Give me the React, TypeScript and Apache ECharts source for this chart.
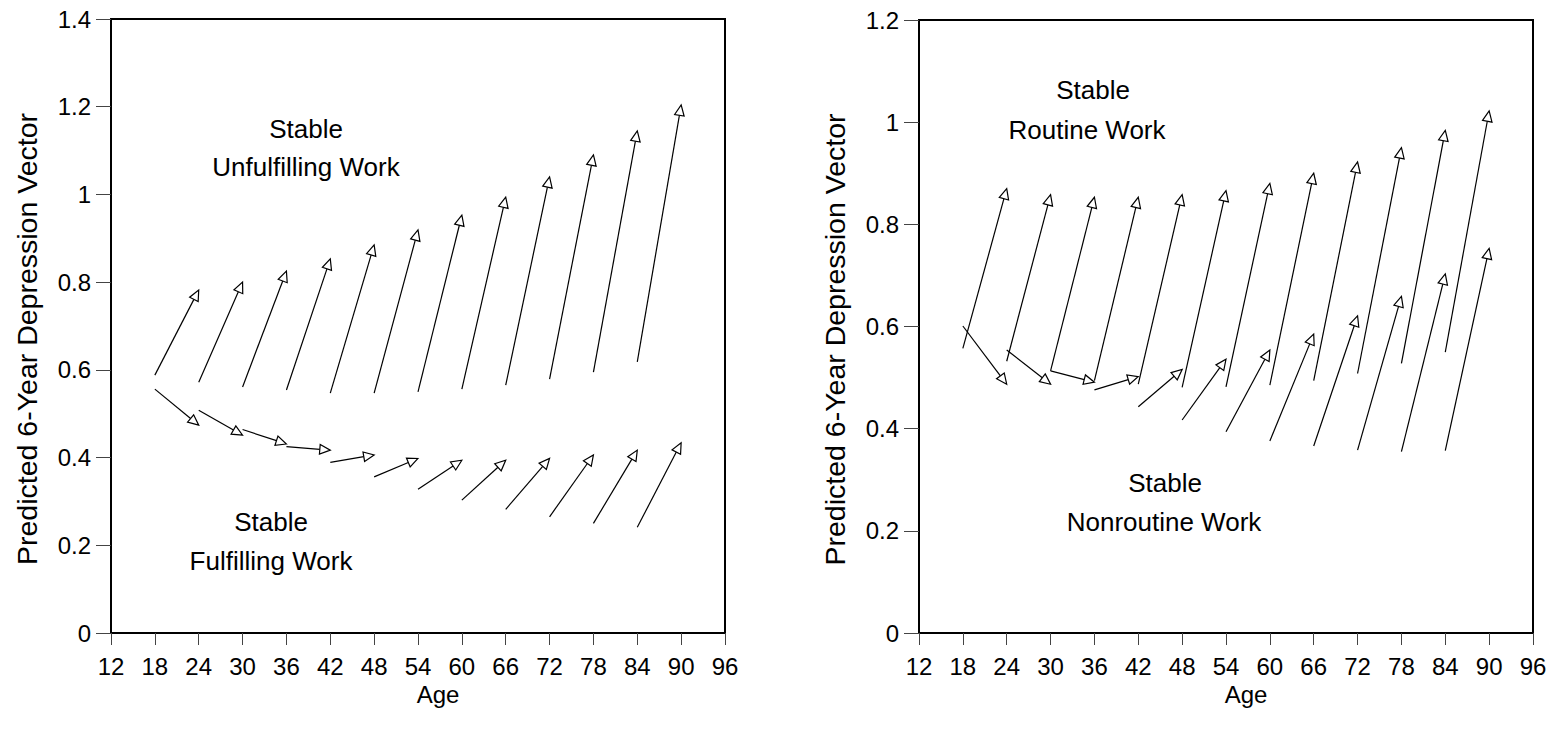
import React, { useEffect, useRef } from "react";
import * as echarts from "echarts";

// Start and end ages of each 6-year vector
const fromAge = [18, 24, 30, 36, 42, 48, 54, 60, 66, 72, 78, 84];
const toAge = [24, 30, 36, 42, 48, 54, 60, 66, 72, 78, 84, 90];

// Left panel: Stable Unfulfilling Work (upper vectors)
const unfulfillingStart = [0.588, 0.572, 0.561, 0.554, 0.547, 0.547, 0.55, 0.556, 0.565, 0.579, 0.595, 0.618];
const unfulfillingEnd = [0.782, 0.8, 0.825, 0.853, 0.885, 0.919, 0.953, 0.994, 1.04, 1.09, 1.145, 1.204];
// Left panel: Stable Fulfilling Work (lower vectors)
const fulfillingStart = [0.556, 0.508, 0.464, 0.425, 0.389, 0.356, 0.328, 0.303, 0.282, 0.265, 0.25, 0.241];
const fulfillingEnd = [0.474, 0.451, 0.431, 0.417, 0.406, 0.398, 0.394, 0.394, 0.398, 0.406, 0.417, 0.434];

// Right panel: Stable Routine Work
const routineStart = [0.557, 0.532, 0.513, 0.494, 0.487, 0.481, 0.482, 0.485, 0.494, 0.508, 0.528, 0.55];
const routineEnd = [0.87, 0.858, 0.853, 0.853, 0.858, 0.866, 0.88, 0.9, 0.922, 0.95, 0.984, 1.022];
// Right panel: Stable Nonroutine Work
const nonroutineStart = [0.601, 0.554, 0.513, 0.476, 0.443, 0.417, 0.394, 0.376, 0.366, 0.358, 0.355, 0.357];
const nonroutineEnd = [0.487, 0.487, 0.491, 0.502, 0.516, 0.536, 0.554, 0.585, 0.621, 0.659, 0.703, 0.753];

const xTicks = { min: 12, max: 96, interval: 6 };
const leftY = { min: 0, max: 1.4, interval: 0.2 };
const rightY = { min: 0, max: 1.2, interval: 0.2 };

const xTitle = "Age";
const yTitle = "Predicted 6-Year Depression Vector";

const FONT = '"Liberation Sans", Arial, sans-serif';

function vectors(starts: number[], ends: number[]) {
  return fromAge.map((a, i) => [a, starts[i], toAge[i], ends[i]]);
}

function renderArrow(params: any, api: any) {
  const p0 = api.coord([api.value(0), api.value(1)]);
  const p1 = api.coord([api.value(2), api.value(3)]);
  const dx = p1[0] - p0[0];
  const dy = p1[1] - p0[1];
  const len = Math.sqrt(dx * dx + dy * dy) || 1;
  const ux = dx / len;
  const uy = dy / len;
  const headLen = 10.5;
  const headHalf = 4.8;
  const bx = p1[0] - ux * headLen;
  const by = p1[1] - uy * headLen;
  const px = -uy;
  const py = ux;
  return {
    type: "group",
    children: [
      {
        type: "line",
        shape: { x1: p0[0], y1: p0[1], x2: bx, y2: by },
        style: { stroke: "#000", lineWidth: 1.2 },
      },
      {
        type: "polygon",
        shape: {
          points: [
            [p1[0], p1[1]],
            [bx + px * headHalf, by + py * headHalf],
            [bx - px * headHalf, by - py * headHalf],
          ],
        },
        style: { fill: "#fff", stroke: "#000", lineWidth: 1.2 },
      },
    ],
  };
}

function xAxisDef(gridIndex: number) {
  return {
    type: "value",
    gridIndex,
    min: xTicks.min,
    max: xTicks.max,
    interval: xTicks.interval,
    offset: 3,
    name: xTitle,
    nameLocation: "middle",
    nameGap: 38,
    nameTextStyle: { fontSize: 24, color: "#000", fontFamily: FONT, padding: [0, 0, 0, 40] },
    axisLine: { show: false },
    axisTick: { show: true, length: 12, lineStyle: { color: "#444", width: 1 } },
    axisLabel: { fontSize: 24, color: "#000", fontFamily: FONT, margin: 18 },
    splitLine: { show: false },
  };
}

function yAxisDef(gridIndex: number, cfg: { min: number; max: number; interval: number }) {
  return {
    type: "value",
    gridIndex,
    min: cfg.min,
    max: cfg.max,
    interval: cfg.interval,
    name: yTitle,
    nameLocation: "middle",
    nameGap: 70,
    nameRotate: 90,
    nameTextStyle: { fontSize: 28.5, color: "#000", fontFamily: FONT, padding: [0, 26, 0, 0] },
    axisLine: { show: false },
    axisTick: { show: true, length: 15, lineStyle: { color: "#444", width: 1 } },
    axisLabel: {
      fontSize: 24,
      color: "#000",
      fontFamily: FONT,
      margin: 20,
      formatter: (v: number) => String(Math.round(v * 10) / 10),
    },
    splitLine: { show: false },
  };
}

function textEl(text: string, x: number, y: number) {
  return {
    type: "text",
    x,
    y,
    style: {
      text,
      fill: "#000",
      font: `26px ${FONT}`,
      align: "center",
      verticalAlign: "middle",
    },
  };
}

export default function App() {
  const ref = useRef<HTMLDivElement>(null);
  useEffect(() => {
    if (!ref.current) return;
    const chart = echarts.init(ref.current, null, { renderer: "svg" });
    chart.setOption({
      animation: false,
      backgroundColor: "#fff",
      grid: [
        { left: 111, top: 19, width: 614, height: 614, show: true, borderColor: "#000", borderWidth: 2, backgroundColor: "transparent" },
        { left: 919, top: 20, width: 614, height: 613, show: true, borderColor: "#000", borderWidth: 2, backgroundColor: "transparent" },
      ],
      xAxis: [xAxisDef(0), xAxisDef(1)],
      yAxis: [yAxisDef(0, leftY), yAxisDef(1, rightY)],
      series: [
        { name: "Stable Unfulfilling Work", type: "custom", xAxisIndex: 0, yAxisIndex: 0, renderItem: renderArrow, encode: { x: [0, 2], y: [1, 3] }, data: vectors(unfulfillingStart, unfulfillingEnd) },
        { name: "Stable Fulfilling Work", type: "custom", xAxisIndex: 0, yAxisIndex: 0, renderItem: renderArrow, encode: { x: [0, 2], y: [1, 3] }, data: vectors(fulfillingStart, fulfillingEnd) },
        { name: "Stable Routine Work", type: "custom", xAxisIndex: 1, yAxisIndex: 1, renderItem: renderArrow, encode: { x: [0, 2], y: [1, 3] }, data: vectors(routineStart, routineEnd) },
        { name: "Stable Nonroutine Work", type: "custom", xAxisIndex: 1, yAxisIndex: 1, renderItem: renderArrow, encode: { x: [0, 2], y: [1, 3] }, data: vectors(nonroutineStart, nonroutineEnd) },
      ],
      graphic: [
        textEl("Stable", 306, 129),
        textEl("Unfulfilling Work", 306, 167),
        textEl("Stable", 271, 522),
        textEl("Fulfilling Work", 271, 561),
        textEl("Stable", 1093, 90),
        textEl("Routine Work", 1087, 130),
        textEl("Stable", 1165, 483),
        textEl("Nonroutine Work", 1164, 522),
      ],
    });
    return () => chart.dispose();
  }, []);
  return (
    <div
      ref={ref}
      style={{ position: "fixed", left: 0, top: 0, width: 1562, height: 735, background: "#fff" }}
    />
  );
}
